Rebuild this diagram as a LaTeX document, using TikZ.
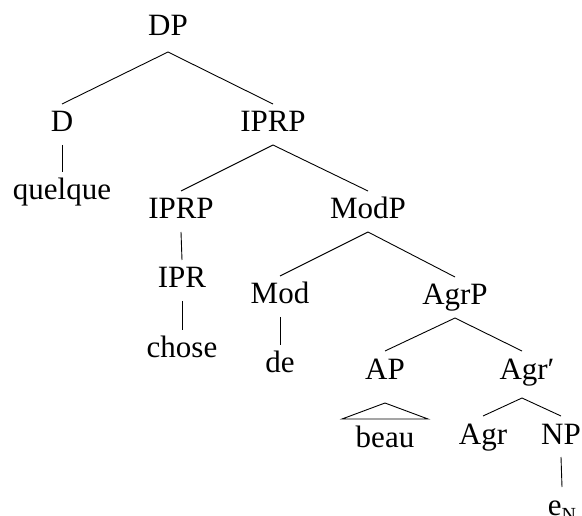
\documentclass[tikz,border=0pt]{standalone}
\usepackage{fontspec}
\setmainfont{Liberation Serif}
\usetikzlibrary{calc}
\begin{document}
\begin{tikzpicture}[x=1pt,y=-1pt,
  lab/.style={anchor=base,inner sep=0pt,outer sep=0pt,text height=28pt,text depth=13pt,font=\fontsize{31}{31}\selectfont},
  br/.style={line width=0.9pt}]
\useasboundingbox (0,0) rectangle (582,516);
\node[lab] (DP) at (168,36) {DP};
\node[lab] (D) at (62,132) {D};
\node[lab] (IPRPa) at (273,132) {IPRP};
\node[lab] (quelque) at (62,200) {quelque};
\node[lab] (IPRPb) at (181,219) {IPRP};
\node[lab] (ModP) at (368,219) {ModP};
\node[lab] (IPR) at (182,288) {IPR};
\node[lab] (chose) at (182,358) {chose};
\node[lab] (Mod) at (280,304) {Mod};
\node[lab] (AgrP) at (455,305) {AgrP};
\node[lab] (de) at (280,373) {de};
\node[lab] (AP) at (385,379) {AP};
\node[lab] (Agrb) at (527,379) {Agr′};
\node[lab] (beau) at (385,447) {beau};
\node[lab] (Agr) at (483,444) {Agr};
\node[lab] (NP) at (561,444) {NP};
\node[lab] (eN) at (562,515) {e\raisebox{-0.22em}{\fontsize{20}{20}\selectfont N}};
% branches
\draw[br] ([yshift=-3pt]DP.south) -- (D.north);
\draw[br] ([yshift=-3pt]DP.south) -- (IPRPa.north);
\draw[br] (D.south) -- (quelque.north);
\draw[br] (IPRPa.south) -- (IPRPb.north);
\draw[br] (IPRPa.south) -- (ModP.north);
\draw[br] (IPRPb.south) -- (IPR.north);
\draw[br] (IPR.south) -- (chose.north);
\draw[br] (ModP.south) -- (Mod.north);
\draw[br] (ModP.south) -- (AgrP.north);
\draw[br] (Mod.south) -- (de.north);
\draw[br] (AgrP.south) -- (AP.north);
\draw[br] (AgrP.south) -- ([xshift=-5pt]Agrb.north);
\draw[br] ([yshift=-11pt]AP.south) -- ([xshift=-43pt]beau.north) -- ([xshift=43pt]beau.north) -- cycle;
\draw[br] ([xshift=-5pt,yshift=-6pt]Agrb.south) -- (Agr.north);
\draw[br] ([xshift=-5pt,yshift=-6pt]Agrb.south) -- (NP.north);
\draw[br] (NP.south) -- (eN.north);
\end{tikzpicture}
\end{document}
